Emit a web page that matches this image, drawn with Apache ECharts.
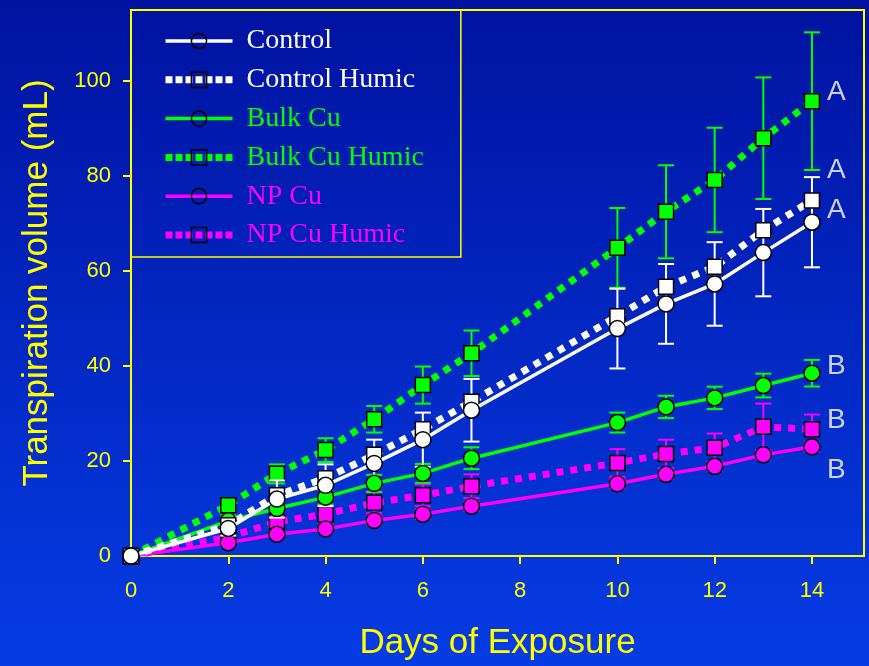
<!DOCTYPE html>
<html><head><meta charset="utf-8">
<script src="https://cdn.jsdelivr.net/npm/echarts@6/dist/echarts.min.js"></script>
<style>html,body{margin:0;padding:0;background:#0428c8}#c{width:869px;height:666px}</style>
</head><body><div id="c"></div>
<script>
const days = [0, 2, 3, 4, 5, 6, 7, 10, 11, 12, 13, 14];
const control = [0, 5.8, 12.0, 14.9, 19.5, 24.5, 30.7, 47.9, 53.1, 57.3, 63.9, 70.3];
const controlErr = [0, 1.5, 3.9, 4.4, 5.0, 5.7, 6.6, 8.4, 8.4, 8.8, 9.2, 9.5];
const controlHumic = [0, 6.5, 12.8, 16.4, 21.3, 26.7, 32.5, 50.5, 56.7, 60.9, 68.6, 74.9];
const controlHumicErr = [0, 1.0, 1.0, 1.0, 1.0, 1.0, 1.0, 1.2, 1.2, 1.2, 1.2, 1.2];
const bulkCu = [0, 7.4, 10.0, 12.4, 15.3, 17.4, 20.6, 28.1, 31.4, 33.3, 35.9, 38.5];
const bulkCuErr = [0, 1.2, 1.5, 1.6, 1.8, 2.0, 2.3, 2.1, 2.35, 2.35, 2.5, 2.8];
const bulkCuHumic = [0, 10.7, 17.3, 22.3, 28.8, 36.0, 42.7, 64.9, 72.5, 79.2, 88.0, 95.8];
const bulkCuHumicErr = [0, 1.5, 2.0, 2.5, 2.8, 3.9, 4.8, 8.4, 9.8, 11.0, 12.8, 14.5];
const npCu = [0, 2.8, 4.6, 5.7, 7.5, 8.8, 10.5, 15.2, 17.2, 18.9, 21.3, 23.0];
const npCuErr = [0, 0.8, 0.8, 0.8, 0.9, 1.0, 1.0, 1.0, 1.0, 1.0, 1.0, 1.0];
const npCuHumic = [0, 4.0, 7.2, 8.8, 11.2, 12.8, 14.7, 19.6, 21.5, 22.8, 27.2, 26.7];
const npCuHumicErr = [0, 1.5, 1.8, 2.0, 2.2, 2.3, 2.5, 2.9, 3.0, 3.0, 4.9, 3.1];
const xTicks = [0, 2, 4, 6, 8, 10, 12, 14];
const yTicks = [0, 20, 40, 60, 80, 100];
const annotLetters = ['A', 'A', 'A', 'B', 'B', 'B'];
const annotY = [97.7, 81.3, 72.8, 40.0, 28.6, 18.1];
const annotX = 14.5;

const WHITE = '#ffffff', GREEN = '#00ff00', MAGENTA = '#ff00ff', YELLOW = '#ffff00';
const groups = [
  {name: 'Control', vals: control, err: controlErr, color: WHITE, dotted: false, z: 12},
  {name: 'Control Humic', vals: controlHumic, err: controlHumicErr, color: WHITE, dotted: true, z: 11},
  {name: 'Bulk Cu', vals: bulkCu, err: bulkCuErr, color: GREEN, dotted: false, z: 8},
  {name: 'Bulk Cu Humic', vals: bulkCuHumic, err: bulkCuHumicErr, color: GREEN, dotted: true, z: 7},
  {name: 'NP Cu', vals: npCu, err: npCuErr, color: MAGENTA, dotted: false, z: 6},
  {name: 'NP Cu Humic', vals: npCuHumic, err: npCuHumicErr, color: MAGENTA, dotted: true, z: 5}
];

function errRender(color) {
  return function (params, api) {
    const x = api.value(0), y = api.value(1), e = api.value(2);
    if (!e) return null;
    const t = api.coord([x, y + e]), b = api.coord([x, y - e]);
    const hw = 8;
    const st = {stroke: color, lineWidth: 2};
    return {type: 'group', children: [
      {type: 'line', shape: {x1: t[0], y1: t[1], x2: b[0], y2: b[1]}, style: st},
      {type: 'line', shape: {x1: t[0] - hw, y1: t[1], x2: t[0] + hw, y2: t[1]}, style: st},
      {type: 'line', shape: {x1: b[0] - hw, y1: b[1], x2: b[0] + hw, y2: b[1]}, style: st}
    ]};
  };
}

const series = [];
groups.forEach(g => {
  series.push({
    name: g.name + ' err', type: 'custom', z: g.z - 4,
    renderItem: errRender(g.color),
    data: days.map((d, i) => [d, g.vals[i], g.err[i]])
  });
});
groups.forEach(g => {
  series.push({
    name: g.name, type: 'line', z: g.z,
    data: days.map((d, i) => [d, g.vals[i]]),
    symbol: g.dotted ? 'rect' : 'circle',
    symbolSize: g.dotted ? 15 : 16,
    showAllSymbol: true,
    lineStyle: g.dotted ? {color: g.color, width: 7, type: [7, 7], cap: 'butt'} : {color: g.color, width: 3.5},
    itemStyle: {color: g.color, borderColor: '#000000', borderWidth: 1.5}
  });
});
series.push({
  name: 'letters', type: 'scatter', symbolSize: 0, z: 20,
  data: annotLetters.map((l, i) => ({name: l, value: [annotX, annotY[i]]})),
  label: {show: true, position: 'inside', formatter: p => p.name, color: WHITE,
    fontFamily: 'Liberation Sans, Arial, sans-serif', fontSize: 28}
});

const axisFont = 'Liberation Sans, Arial, sans-serif';
const option = {
  animation: false,
  backgroundColor: {type: 'linear', x: 0, y: 0, x2: 0, y2: 1, colorStops: [
    {offset: 0, color: '#0012a0'}, {offset: 1, color: '#053ce4'}]},
  grid: {left: 131, right: 5, top: 10, bottom: 110, show: true, borderColor: YELLOW, borderWidth: 2, backgroundColor: 'transparent'},
  xAxis: {
    type: 'value', min: 0, max: 15.07,
    name: 'Days of Exposure', nameLocation: 'middle', nameGap: 70,
    nameTextStyle: {color: YELLOW, fontSize: 35, fontFamily: axisFont},
    axisLine: {lineStyle: {color: YELLOW, width: 2}},
    axisTick: {show: true, length: 8, lineStyle: {color: YELLOW, width: 2}, customValues: xTicks},
    axisLabel: {color: YELLOW, fontSize: 22, fontFamily: axisFont, margin: 24, customValues: xTicks},
    splitLine: {show: false}
  },
  yAxis: {
    type: 'value', min: 0, max: 115,
    name: 'Transpiration volume (mL)', nameLocation: 'middle', nameGap: 76,
    nameTextStyle: {color: YELLOW, fontSize: 35, fontFamily: axisFont},
    axisLine: {show: true, lineStyle: {color: YELLOW, width: 2}},
    axisTick: {show: true, length: 8, lineStyle: {color: YELLOW, width: 2}, customValues: yTicks},
    axisLabel: {color: YELLOW, fontSize: 22, fontFamily: axisFont, margin: 20, customValues: yTicks},
    splitLine: {show: false}
  },
  legend: {
    orient: 'vertical', left: 131, top: 10,
    itemWidth: 67, itemHeight: 19, itemGap: 10.8,
    padding: [17, 37, 8, 31],
    borderColor: YELLOW, borderWidth: 1.5, backgroundColor: 'transparent',
    textStyle: {fontFamily: 'Liberation Serif, Times New Roman, serif', fontSize: 28, padding: [0, 0, 0, 9]},
    data: groups.map(g => ({
      name: g.name,
      textStyle: {color: g.color},
      itemStyle: {color: 'rgba(0,0,0,0)', borderColor: '#000000', borderWidth: 1.5},
      lineStyle: g.dotted ? {color: g.color, width: 7, type: [7, 3]} : {color: g.color, width: 3.5}
    }))
  },
  series: series
};
const chart = echarts.init(document.getElementById('c'));
chart.setOption(option);
</script></body></html>
